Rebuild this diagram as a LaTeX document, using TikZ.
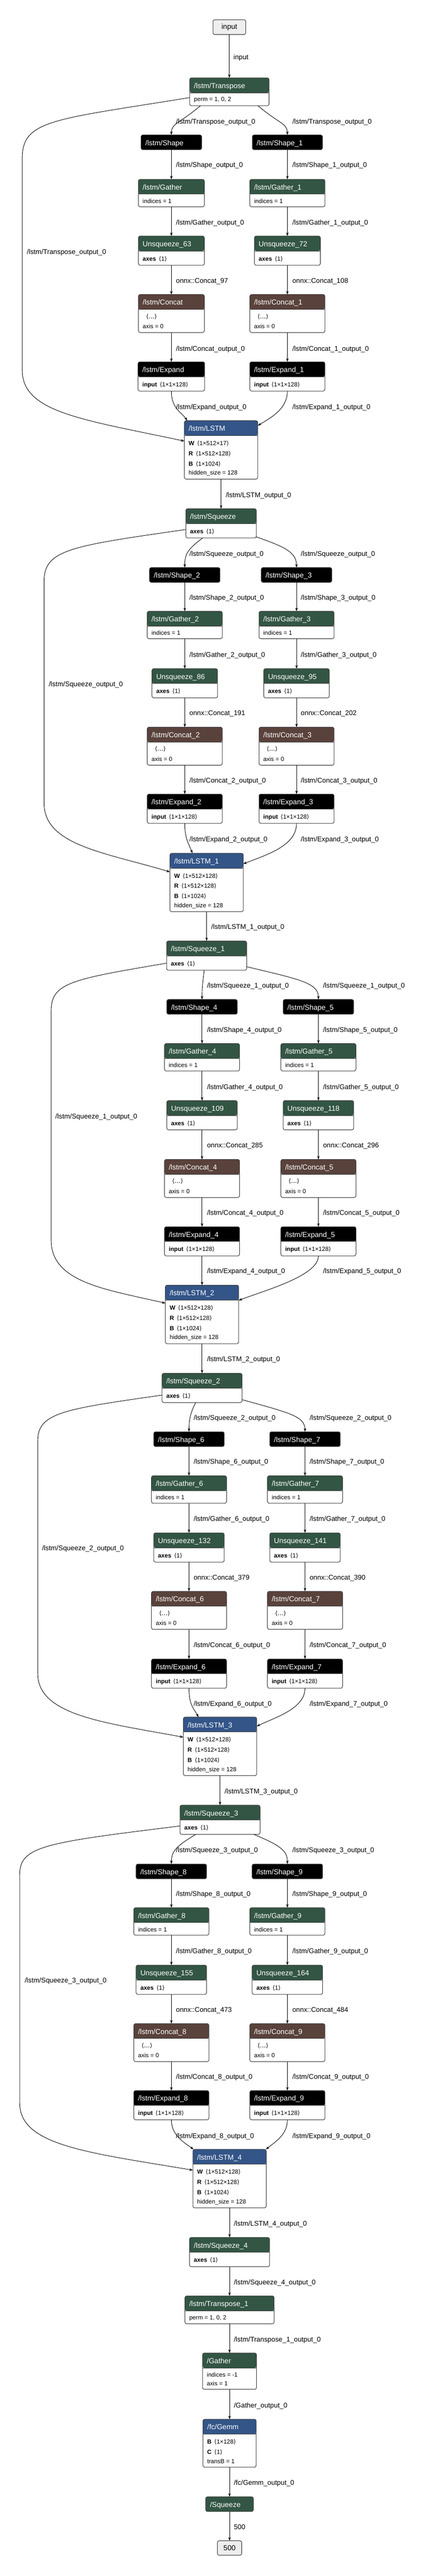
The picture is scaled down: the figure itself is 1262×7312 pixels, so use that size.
\documentclass[tikz,border=0pt]{standalone}
\usepackage{fontspec}
\setmainfont{Liberation Sans}
\newfontfamily\dvfont{DejaVu Sans}
\usetikzlibrary{arrows.meta}
\definecolor{cTrans}{RGB}{51,85,68}
\definecolor{cTensor}{RGB}{89,66,59}
\definecolor{cLayer}{RGB}{51,85,136}
\definecolor{cBorder}{RGB}{60,60,60}
\definecolor{cTerm}{RGB}{238,238,238}
\newcommand{\hdrfnt}{\fontsize{20.5pt}{24pt}\selectfont}
\newcommand{\bodyfnt}{\fontsize{17pt}{20pt}\selectfont}
\newcommand{\lblfnt}{\fontsize{19.5pt}{23pt}\selectfont}
\newcommand{\angL}{{\dvfont ⟨}}
\newcommand{\angR}{{\dvfont ⟩}}
\newcommand{\kgap}{\hspace{8pt}}
\newcounter{tc}
\tikzset{
 opframe/.style={draw=cBorder, line width=1.5pt, rounded corners=5pt, fill=white, inner sep=0pt, outer sep=0pt},
 sepline/.style={draw=cBorder, line width=1pt},
 hdrtxt/.style={anchor=base west, inner sep=0pt, text=white, font=\hdrfnt},
 btxt/.style={anchor=base west, inner sep=0pt, text=black, font=\bodyfnt},
 elabel/.style={anchor=base west, inner sep=0pt, font=\lblfnt},
 term/.style={draw=cBorder, line width=1.5pt, rounded corners=5pt, fill=cTerm, inner sep=0pt, outer sep=0pt, font=\hdrfnt},
 conn/.style={line width=1.3pt, draw=black, -{Stealth[length=10pt,width=7pt,inset=3pt]}},
}
\newcommand{\opbox}[7]{%
\node[opframe, minimum width=#4pt, minimum height=#5pt, anchor=north,
 path picture={\fill[#6] ([yshift=2pt]path picture bounding box.north west) rectangle ([yshift=-42pt]path picture bounding box.north east);
 \draw[sepline] ([yshift=-42pt]path picture bounding box.north west) -- ([yshift=-42pt]path picture bounding box.north east);}]
 (#1) at (#2,#3) {};
\node[hdrtxt] (#1-h) at ([xshift=12pt,yshift=-29.5pt]#1.north west) {#7};}
\newcommand{\brow}[4][0]{\stepcounter{tc}\node[btxt] (t\arabic{tc}) at ([xshift={(12+#1)*1pt},yshift=-#3pt]#2.north west) {#4};}
\newcommand{\Shp}[5]{\opbox{#1}{#2}{#3}{#4}{42}{black}{#5}}
\newcommand{\Gat}[5]{\opbox{#1}{#2}{#3}{#4}{78}{cTrans}{#5}\brow{#1}{67.5}{indices = 1}}
\newcommand{\Uns}[5]{\opbox{#1}{#2}{#3}{#4}{83}{cTrans}{#5}\brow{#1}{70}{\textbf{axes}\kgap\angL 1\angR}}
\newcommand{\Cat}[5]{\opbox{#1}{#2}{#3}{#4}{108}{cTensor}{#5}\brow[10]{#1}{68}{\angL{\dvfont …}\angR}\brow{#1}{96}{axis = 0}}
\newcommand{\Exp}[5]{\opbox{#1}{#2}{#3}{#4}{83}{black}{#5}\brow{#1}{70}{\textbf{input}\kgap\angL 1×1×128\angR}}
\newcommand{\Lst}[5]{\opbox{#1}{#2}{#3}{208}{166}{cLayer}{#4}\brow{#1}{70}{\textbf{W}\kgap\angL #5\angR}\brow{#1}{99}{\textbf{R}\kgap\angL 1×512×128\angR}\brow{#1}{128}{\textbf{B}\kgap\angL 1×1024\angR}\brow{#1}{154}{hidden\_size = 128}}
\newcommand{\elab}[3]{\stepcounter{tc}\node[elabel] (t\arabic{tc}) at (#1,#2+7) {#3};}
\newcommand{\vedge}[2]{\draw[conn] (#1.south) -- (#2.north);}
\begin{document}
\begin{tikzpicture}[x=1pt,y=-1pt]
\fill[white] (0,0) rectangle (1262,7312);
\useasboundingbox (0,0) rectangle (1262,7312);

% ---------- nodes: block 0 ----------
\node[term, minimum width=93pt, minimum height=42pt, anchor=north] (inp) at (650.5,56) {input};
\opbox{tr}{650.5}{221}{225}{79}{cTrans}{/lstm/Transpose}\brow{tr}{67}{perm = 1, 0, 2}
\Shp{sh0}{486}{383}{172}{/lstm/Shape}
\Shp{sh1}{815}{383}{199}{/lstm/Shape\_1}
\Gat{ga0}{486}{509}{187}{/lstm/Gather}
\Gat{ga1}{815}{509}{213}{/lstm/Gather\_1}
\Uns{un0}{486}{670}{187}{Unsqueeze\_63}
\Uns{un1}{815}{670}{187}{Unsqueeze\_72}
\Cat{ca0}{486}{836}{187}{/lstm/Concat}
\Cat{ca1}{815}{836}{213}{/lstm/Concat\_1}
\Exp{ex0}{486}{1027}{189}{/lstm/Expand}
\Exp{ex1}{815}{1027}{213}{/lstm/Expand\_1}
\Lst{L0}{627}{1194}{/lstm/LSTM}{1×512×17}

% ---------- block 1 ----------
\Uns{sq0}{627}{1444}{200}{/lstm/Squeeze}
\Shp{sh2}{524}{1611}{200}{/lstm/Shape\_2}
\Shp{sh3}{841}{1611}{200}{/lstm/Shape\_3}
\Gat{ga2}{524}{1735}{213}{/lstm/Gather\_2}
\Gat{ga3}{841}{1735}{213}{/lstm/Gather\_3}
\Uns{un2}{524}{1898}{186}{Unsqueeze\_86}
\Uns{un3}{841}{1898}{186}{Unsqueeze\_95}
\Cat{ca2}{524}{2064}{213}{/lstm/Concat\_2}
\Cat{ca3}{841}{2064}{213}{/lstm/Concat\_3}
\Exp{ex2}{524}{2254}{213}{/lstm/Expand\_2}
\Exp{ex3}{841}{2254}{213}{/lstm/Expand\_3}
\Lst{L1}{586}{2422}{/lstm/LSTM\_1}{1×512×128}

% ---------- block 2 ----------
\Uns{sq1}{586}{2671}{227}{/lstm/Squeeze\_1}
\Shp{sh4}{573}{2837}{200}{/lstm/Shape\_4}
\Shp{sh5}{903}{2837}{200}{/lstm/Shape\_5}
\Gat{ga4}{573}{2962}{213}{/lstm/Gather\_4}
\Gat{ga5}{903}{2962}{213}{/lstm/Gather\_5}
\Uns{un4}{573}{3124}{200}{Unsqueeze\_109}
\Uns{un5}{903}{3124}{200}{Unsqueeze\_118}
\Cat{ca4}{573}{3291}{213}{/lstm/Concat\_4}
\Cat{ca5}{903}{3291}{213}{/lstm/Concat\_5}
\Exp{ex4}{573}{3482}{213}{/lstm/Expand\_4}
\Exp{ex5}{903}{3482}{213}{/lstm/Expand\_5}
\Lst{L2}{573}{3648}{/lstm/LSTM\_2}{1×512×128}

% ---------- block 3 ----------
\Uns{sq2}{573}{3898}{227}{/lstm/Squeeze\_2}
\Shp{sh6}{536}{4064}{200}{/lstm/Shape\_6}
\Shp{sh7}{865}{4064}{200}{/lstm/Shape\_7}
\Gat{ga6}{536}{4189}{213}{/lstm/Gather\_6}
\Gat{ga7}{865}{4189}{213}{/lstm/Gather\_7}
\Uns{un6}{536}{4351}{200}{Unsqueeze\_132}
\Uns{un7}{865}{4351}{200}{Unsqueeze\_141}
\Cat{ca6}{536}{4517}{213}{/lstm/Concat\_6}
\Cat{ca7}{865}{4517}{213}{/lstm/Concat\_7}
\Exp{ex6}{536}{4709}{213}{/lstm/Expand\_6}
\Exp{ex7}{865}{4709}{213}{/lstm/Expand\_7}
\Lst{L3}{624}{4874}{/lstm/LSTM\_3}{1×512×128}

% ---------- block 4 ----------
\Uns{sq3}{624}{5124}{227}{/lstm/Squeeze\_3}
\Shp{sh8}{486}{5291}{200}{/lstm/Shape\_8}
\Shp{sh9}{815}{5291}{200}{/lstm/Shape\_9}
\Gat{ga8}{486}{5415}{213}{/lstm/Gather\_8}
\Gat{ga9}{815}{5415}{213}{/lstm/Gather\_9}
\Uns{un8}{486}{5578}{200}{Unsqueeze\_155}
\Uns{un9}{815}{5578}{200}{Unsqueeze\_164}
\Cat{ca8}{486}{5744}{213}{/lstm/Concat\_8}
\Cat{ca9}{815}{5744}{213}{/lstm/Concat\_9}
\Exp{ex8}{486}{5934}{213}{/lstm/Expand\_8}
\Exp{ex9}{815}{5934}{213}{/lstm/Expand\_9}
\Lst{L4}{651}{6101}{/lstm/LSTM\_4}{1×512×128}

% ---------- final ----------
\Uns{sq4}{651}{6351}{227}{/lstm/Squeeze\_4}
\opbox{tr1}{651}{6517}{253}{79}{cTrans}{/lstm/Transpose\_1}\brow{tr1}{67}{perm = 1, 0, 2}
\opbox{gat}{651}{6679}{153}{103}{cTrans}{/Gather}\brow{gat}{67.5}{indices = -1}\brow{gat}{92.5}{axis = 1}
\opbox{gemm}{651}{6867}{151}{136}{cLayer}{/fc/Gemm}\brow{gemm}{70}{\textbf{B}\kgap\angL 1×128\angR}\brow{gemm}{99}{\textbf{C}\kgap\angL 1\angR}\brow{gemm}{125}{transB = 1}
\opbox{sqz}{651}{7087}{135}{42}{cTrans}{/Squeeze}
\node[term, minimum width=69pt, minimum height=41pt, anchor=north] (out) at (651,7212) {500};

% ---------- edges: block 0 ----------
\vedge{inp}{tr}
\draw[conn] ([xshift=-82pt]tr.south) .. controls (510,350) and (486,350) .. (sh0.north);
\draw[conn] ([xshift=81pt]tr.south) .. controls (790,350) and (815,350) .. (sh1.north);
\vedge{sh0}{ga0}\vedge{ga0}{un0}\vedge{un0}{ca0}\vedge{ca0}{ex0}
\vedge{sh1}{ga1}\vedge{ga1}{un1}\vedge{un1}{ca1}\vedge{ca1}{ex1}
\draw[conn] (ex0.south) .. controls (486,1160) and (515,1170) .. ([xshift=8pt]L0.north west);
\draw[conn] (ex1.south) .. controls (815,1160) and (770,1185) .. ([yshift=-14pt]L0.north east);
\draw[conn] ([yshift=-56pt]tr.north west) .. controls (150,340) and (63,340) .. (63,450) -- (63,1050) .. controls (63,1170) and (230,1190) .. ([yshift=-58pt]L0.north west);

% ---------- edges: block 1 ----------
\vedge{L0}{sq0}
\draw[conn] ([xshift=-52pt]sq0.south) .. controls (530,1560) and (524,1575) .. (sh2.north);
\draw[conn] ([yshift=3pt]sq0.south east) .. controls (800,1550) and (841,1565) .. (sh3.north);
\vedge{sh2}{ga2}\vedge{ga2}{un2}\vedge{un2}{ca2}\vedge{ca2}{ex2}
\vedge{sh3}{ga3}\vedge{ga3}{un3}\vedge{un3}{ca3}\vedge{ca3}{ex3}
\draw[conn] (ex2.south) .. controls (524,2380) and (535,2395) .. ([xshift=64pt]L1.north west);
\draw[conn] (ex3.south) .. controls (841,2400) and (760,2425) .. ([yshift=-30pt]L1.north east);
\draw[conn] ([yshift=-59pt]sq0.north west) .. controls (200,1550) and (125,1560) .. (125,1650) -- (125,2280) .. controls (125,2400) and (300,2420) .. ([yshift=-53pt]L1.north west);

% ---------- edges: block 2 ----------
\vedge{L1}{sq1}
\draw[conn] ([xshift=-7pt]sq1.south) .. controls (575,2790) and (573,2800) .. (sh4.north);
\draw[conn] ([yshift=10pt]sq1.south east) .. controls (850,2780) and (903,2790) .. (sh5.north);
\vedge{sh4}{ga4}\vedge{ga4}{un4}\vedge{un4}{ca4}\vedge{ca4}{ex4}
\vedge{sh5}{ga5}\vedge{ga5}{un5}\vedge{un5}{ca5}\vedge{ca5}{ex5}
\vedge{ex4}{L2}
\draw[conn] (ex5.south) .. controls (903,3620) and (760,3660) .. ([yshift=-43pt]L2.north east);
\draw[conn] ([yshift=-63pt]sq1.north west) .. controls (200,2780) and (145,2790) .. (145,2870) -- (145,3520) .. controls (145,3640) and (300,3660) .. ([yshift=-51pt]L2.north west);

% ---------- edges: block 3 ----------
\vedge{L2}{sq2}
\draw[conn] ([xshift=-18pt]sq2.south) .. controls (540,4010) and (536,4030) .. (sh6.north);
\draw[conn] ([yshift=8pt]sq2.south east) .. controls (820,4010) and (865,4020) .. (sh7.north);
\vedge{sh6}{ga6}\vedge{ga6}{un6}\vedge{un6}{ca6}\vedge{ca6}{ex6}
\vedge{sh7}{ga7}\vedge{ga7}{un7}\vedge{un7}{ca7}\vedge{ca7}{ex7}
\draw[conn] (ex6.south) .. controls (536,4840) and (550,4850) .. ([xshift=43pt]L3.north west);
\draw[conn] (ex7.south) .. controls (865,4850) and (780,4875) .. ([yshift=-26pt]L3.north east);
\draw[conn] ([yshift=-62pt]sq2.north west) .. controls (180,4000) and (107,4010) .. (107,4090) -- (107,4750) .. controls (107,4870) and (300,4890) .. ([yshift=-57pt]L3.north west);

% ---------- edges: block 4 ----------
\vedge{L3}{sq3}
\draw[conn] ([xshift=-69pt]sq3.south) .. controls (500,5240) and (486,5255) .. (sh8.north);
\draw[conn] ([xshift=96pt]sq3.south) .. controls (800,5240) and (815,5255) .. (sh9.north);
\vedge{sh8}{ga8}\vedge{ga8}{un8}\vedge{un8}{ca8}\vedge{ca8}{ex8}
\vedge{sh9}{ga9}\vedge{ga9}{un9}\vedge{un9}{ca9}\vedge{ca9}{ex9}
\draw[conn] (ex8.south) .. controls (486,6060) and (520,6080) .. ([xshift=2pt]L4.north west);
\draw[conn] (ex9.south) .. controls (815,6060) and (780,6080) .. ([xshift=-1pt]L4.north east);
\draw[conn] ([yshift=-59pt]sq3.north west) .. controls (130,5230) and (56,5240) .. (56,5320) -- (56,5970) .. controls (56,6090) and (250,6110) .. ([yshift=-59pt]L4.north west);

% ---------- edges: final ----------
\vedge{L4}{sq4}\vedge{sq4}{tr1}\vedge{tr1}{gat}\vedge{gat}{gemm}\vedge{gemm}{sqz}\vedge{sqz}{out}

% ---------- labels ----------
\elab{662}{162}{input}
\elab{499}{345}{/lstm/Transpose\_output\_0}
\elab{829}{345}{/lstm/Transpose\_output\_0}
\elab{499}{468}{/lstm/Shape\_output\_0}
\elab{829}{468}{/lstm/Shape\_1\_output\_0}
\elab{499}{631}{/lstm/Gather\_output\_0}
\elab{829}{631}{/lstm/Gather\_1\_output\_0}
\elab{499}{797}{onnx::Concat\_97}
\elab{829}{797}{onnx::Concat\_108}
\elab{499}{989}{/lstm/Concat\_output\_0}
\elab{829}{989}{/lstm/Concat\_1\_output\_0}
\elab{499}{1155}{/lstm/Expand\_output\_0}
\elab{829}{1155}{/lstm/Expand\_1\_output\_0}
\elab{76}{715}{/lstm/Transpose\_output\_0}

\elab{640}{1405}{/lstm/LSTM\_output\_0}
\elab{537}{1571}{/lstm/Squeeze\_output\_0}
\elab{853}{1571}{/lstm/Squeeze\_output\_0}
\elab{537}{1696}{/lstm/Shape\_2\_output\_0}
\elab{853}{1696}{/lstm/Shape\_3\_output\_0}
\elab{537}{1858}{/lstm/Gather\_2\_output\_0}
\elab{853}{1858}{/lstm/Gather\_3\_output\_0}
\elab{537}{2024}{onnx::Concat\_191}
\elab{853}{2024}{onnx::Concat\_202}
\elab{537}{2215}{/lstm/Concat\_2\_output\_0}
\elab{853}{2215}{/lstm/Concat\_3\_output\_0}
\elab{537}{2382}{/lstm/Expand\_2\_output\_0}
\elab{853}{2382}{/lstm/Expand\_3\_output\_0}
\elab{138}{1941}{/lstm/Squeeze\_output\_0}

\elab{599}{2631}{/lstm/LSTM\_1\_output\_0}
\elab{587}{2797}{/lstm/Squeeze\_1\_output\_0}
\elab{916}{2797}{/lstm/Squeeze\_1\_output\_0}
\elab{587}{2923}{/lstm/Shape\_4\_output\_0}
\elab{916}{2923}{/lstm/Shape\_5\_output\_0}
\elab{587}{3085}{/lstm/Gather\_4\_output\_0}
\elab{916}{3085}{/lstm/Gather\_5\_output\_0}
\elab{587}{3250}{onnx::Concat\_285}
\elab{916}{3250}{onnx::Concat\_296}
\elab{587}{3442}{/lstm/Concat\_4\_output\_0}
\elab{916}{3442}{/lstm/Concat\_5\_output\_0}
\elab{587}{3608}{/lstm/Expand\_4\_output\_0}
\elab{916}{3608}{/lstm/Expand\_5\_output\_0}
\elab{157}{3168}{/lstm/Squeeze\_1\_output\_0}

\elab{587}{3858}{/lstm/LSTM\_2\_output\_0}
\elab{549}{4024}{/lstm/Squeeze\_2\_output\_0}
\elab{878}{4024}{/lstm/Squeeze\_2\_output\_0}
\elab{549}{4149}{/lstm/Shape\_6\_output\_0}
\elab{878}{4149}{/lstm/Shape\_7\_output\_0}
\elab{549}{4311}{/lstm/Gather\_6\_output\_0}
\elab{878}{4311}{/lstm/Gather\_7\_output\_0}
\elab{549}{4477}{onnx::Concat\_379}
\elab{878}{4477}{onnx::Concat\_390}
\elab{549}{4669}{/lstm/Concat\_6\_output\_0}
\elab{878}{4669}{/lstm/Concat\_7\_output\_0}
\elab{549}{4835}{/lstm/Expand\_6\_output\_0}
\elab{878}{4835}{/lstm/Expand\_7\_output\_0}
\elab{119}{4394}{/lstm/Squeeze\_2\_output\_0}

\elab{637}{5085}{/lstm/LSTM\_3\_output\_0}
\elab{499}{5251}{/lstm/Squeeze\_3\_output\_0}
\elab{829}{5251}{/lstm/Squeeze\_3\_output\_0}
\elab{499}{5376}{/lstm/Shape\_8\_output\_0}
\elab{829}{5376}{/lstm/Shape\_9\_output\_0}
\elab{499}{5538}{/lstm/Gather\_8\_output\_0}
\elab{829}{5538}{/lstm/Gather\_9\_output\_0}
\elab{499}{5704}{onnx::Concat\_473}
\elab{829}{5704}{onnx::Concat\_484}
\elab{499}{5895}{/lstm/Concat\_8\_output\_0}
\elab{829}{5895}{/lstm/Concat\_9\_output\_0}
\elab{499}{6062}{/lstm/Expand\_8\_output\_0}
\elab{829}{6062}{/lstm/Expand\_9\_output\_0}
\elab{70}{5621}{/lstm/Squeeze\_3\_output\_0}

\elab{663}{6311}{/lstm/LSTM\_4\_output\_0}
\elab{663}{6478}{/lstm/Squeeze\_4\_output\_0}
\elab{663}{6640}{/lstm/Transpose\_1\_output\_0}
\elab{663}{6827}{/Gather\_output\_0}
\elab{663}{7047}{/fc/Gemm\_output\_0}
\elab{663}{7172}{500}
\end{tikzpicture}
\end{document}
